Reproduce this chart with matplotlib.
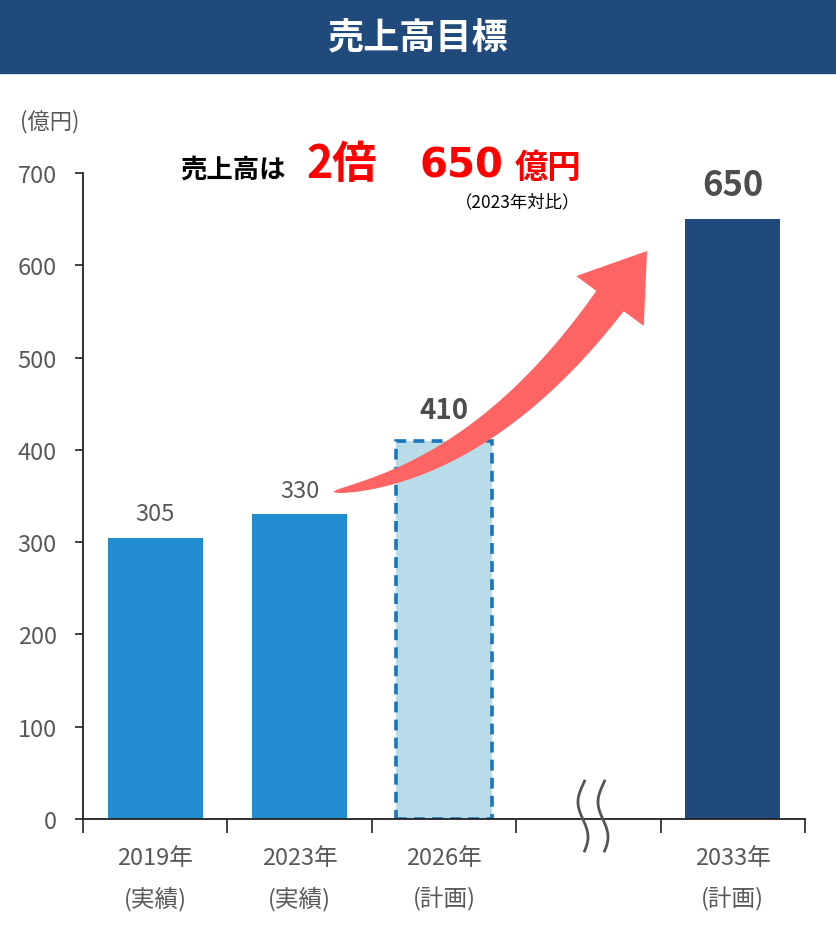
import numpy as np
import matplotlib
matplotlib.use('Agg')
import matplotlib.pyplot as plt
from matplotlib.patches import Polygon, Rectangle

# ----------------------------
# Data
# ----------------------------
years = ['2019年', '2023年', '2026年', '', '2033年']
kinds = ['(実績)', '(実績)', '(計画)', '', '(計画)']
sales = [305, 330, 410, None, 650]
y_ticks = [0, 100, 200, 300, 400, 500, 600, 700]

navy = '#214A7C'
blue = '#238BD0'
light = '#B8DDE9'
dash_blue = '#1B75BC'
gray = '#595959'
dgray = '#4D4D4D'
red = '#FF0000'
arrow_red = '#FF6464'

plt.rcParams['font.family'] = ['Noto Sans CJK JP', 'DejaVu Sans']

W, H = 836, 928
fig = plt.figure(figsize=(W / 100, H / 100), dpi=100)

# ----------------------------
# Main axes
# ----------------------------
ax = fig.add_axes([83 / W, 1 - 820 / H, (805 - 83) / W, 646 / H])
ax.set_xlim(-0.5, len(years) - 0.5)
ax.set_ylim(0, 700)

for i, v in enumerate(sales):
    if v is None:
        continue
    if i < 2:
        ax.bar(i, v, width=0.66, color=blue, zorder=2)
        ax.annotate(str(v), (i, v), xytext=(0, 9), textcoords='offset points',
                    ha='center', va='bottom', fontsize=17, color=gray)
    elif i == 2:
        ax.bar(i, v, width=0.66, color=light, edgecolor=dash_blue, linewidth=2.6,
               linestyle=(0, (3, 2)), zorder=2)
        ax.annotate(str(v), (i, v), xytext=(0, 12), textcoords='offset points',
                    ha='center', va='bottom', fontsize=20, color=dgray,
                    fontweight='bold')
    else:
        ax.bar(i, v, width=0.66, color=navy, zorder=2)
        ax.annotate(str(v), (i, v), xytext=(0, 12), textcoords='offset points',
                    ha='center', va='bottom', fontsize=25, color=dgray,
                    fontweight='bold')

ax.set_yticks(y_ticks)
ax.set_yticklabels([str(t) for t in y_ticks])
ax.set_xticks(np.arange(-0.5, len(years), 1.0))
ax.set_xticklabels([])
ax.tick_params(axis='y', direction='out', length=6, width=1.2, colors='#222222',
               labelcolor=gray, labelsize=17, pad=13)
ax.tick_params(axis='x', direction='out', length=10, width=1.2, colors='#222222')
for s in ['top', 'right']:
    ax.spines[s].set_visible(False)
for s in ['left', 'bottom']:
    ax.spines[s].set_color('#222222')
    ax.spines[s].set_linewidth(1.3)
ax.spines['bottom'].set_zorder(5)

for i, (yr, kd) in enumerate(zip(years, kinds)):
    if yr:
        ax.annotate(yr, (i, 0), xytext=(0, -28), textcoords='offset points',
                    ha='center', va='center', fontsize=17, color=gray,
                    annotation_clip=False)
        ax.annotate(kd, (i, 0), xytext=(0, -57), textcoords='offset points',
                    ha='center', va='center', fontsize=17, color=gray,
                    annotation_clip=False)

# ----------------------------
# Overlay (pixel coords) for decorations
# ----------------------------
ov = fig.add_axes([0, 0, 1, 1], zorder=3)
ov.set_xlim(0, W)
ov.set_ylim(H, 0)
ov.axis('off')
ov.patch.set_alpha(0)

# title band
ov.add_patch(Rectangle((0, 0), W, 74, color=navy))
ov.text(W / 2, 39, '売上高目標', ha='center', va='center', color='white',
        fontsize=26, fontweight='bold')

# unit
ov.text(20, 122, '(億円)', ha='left', va='center', color=gray, fontsize=16)

# headline
ov.text(180, 170, '売上高は', ha='left', va='center', color='black',
        fontsize=19, fontweight='bold')
ov.text(306, 165, '2倍', ha='left', va='center', color=red,
        fontsize=32, fontweight='bold')
ov.text(419, 167, '650', ha='left', va='center', color=red,
        fontsize=29, fontweight='bold', family=['DejaVu Sans'])
ov.text(581, 168, '億円', ha='right', va='center', color=red,
        fontsize=24, fontweight='bold')
ov.text(580, 202, '（2023年対比）', ha='right', va='center', color='black',
        fontsize=12.5)

# curved arrow
p0 = np.array([333.0, 493.0])
p1 = np.array([486.0, 470.0])
p2 = np.array([610.0, 302.0])
tip = np.array([647.0, 252.0])
t = np.linspace(0, 1, 80)
pts = ((1 - t) ** 2)[:, None] * p0 + (2 * (1 - t) * t)[:, None] * p1 + (t ** 2)[:, None] * p2
der = (2 * (1 - t))[:, None] * (p1 - p0) + (2 * t)[:, None] * (p2 - p1)
der /= np.linalg.norm(der, axis=1)[:, None]
nrm = np.column_stack([der[:, 1], -der[:, 0]])
w = 17 * t ** 0.55
upper = pts + nrm * w[:, None]
lower = pts - nrm * w[:, None]
d_end = (tip - p2) / np.linalg.norm(tip - p2)
n_end = np.array([d_end[1], -d_end[0]])
head_a = p2 + n_end * 42
head_b = p2 - n_end * 42
shaft = np.vstack([upper, head_a, tip, head_b, lower[::-1]])
ov.add_patch(Polygon(shaft, closed=True, color=arrow_red, lw=0))

# axis break marks
yy = np.linspace(782, 852, 60)
for x0 in [583, 603]:
    xx = x0 + 5 * np.sin((yy - 782) / 70 * 2 * np.pi + np.pi * 0.9)
    ov.plot(xx, yy, color='#555555', lw=2)

fig.savefig('out.png', dpi=100)
